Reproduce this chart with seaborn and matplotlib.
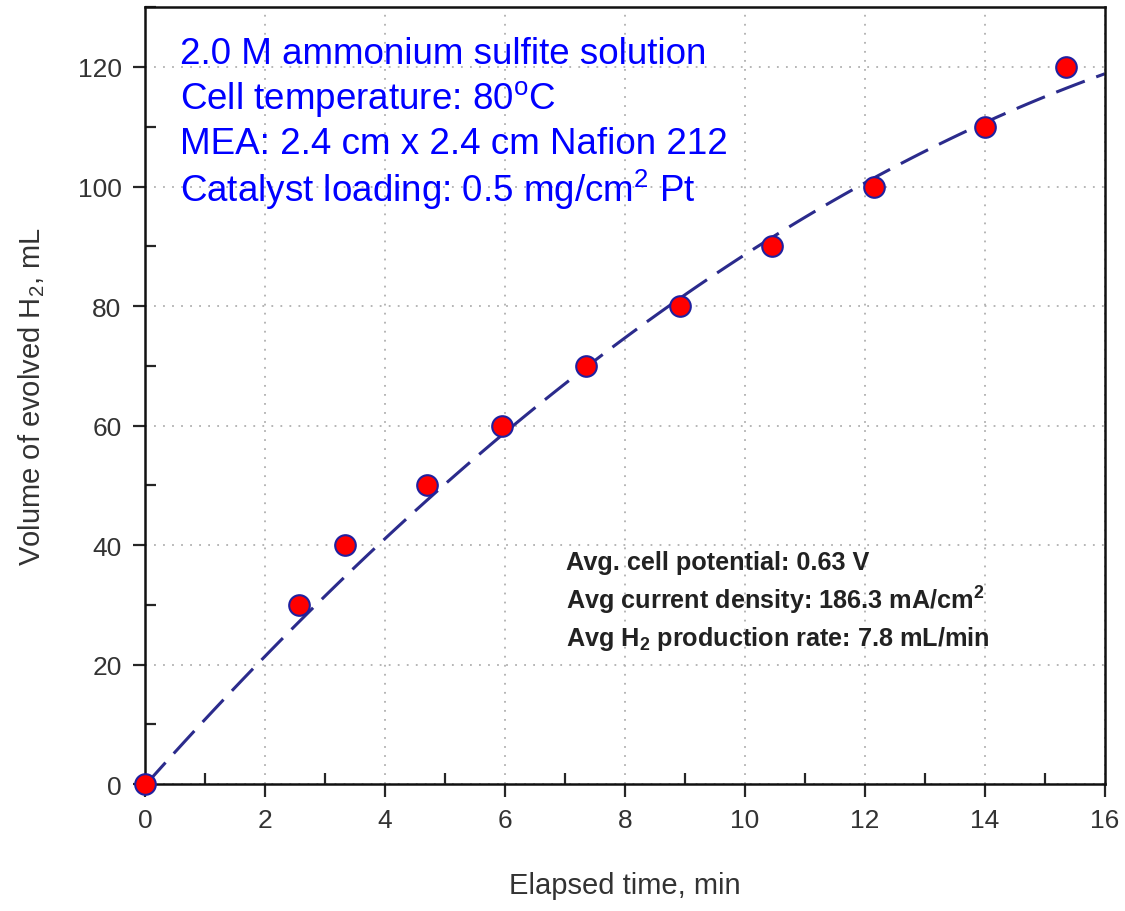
import numpy as np
import pandas as pd
import matplotlib
matplotlib.use("Agg")
import matplotlib.pyplot as plt
import seaborn as sns
from matplotlib.ticker import MultipleLocator

# === Data ===
elapsed_min = [0, 2.57, 3.33, 4.7, 5.95, 7.35, 8.92, 10.45, 12.15, 14.0, 15.35]
h2_volume_ml = [0, 30, 40, 50, 60, 70, 80, 90, 100, 110, 120]

# dashed trend curve at the grid lines
curve_min = [0, 2, 4, 6, 8, 10, 12, 14, 16]
curve_ml = [0, 21.3, 41.0, 58.5, 75.0, 88.5, 101.0, 110.5, 118.8]

info_lines = [
    "2.0 M ammonium sulfite solution",
    "Cell temperature: 80$^{\\mathregular{o}}$C",
    "MEA: 2.4 cm x 2.4 cm Nafion 212",
    "Catalyst loading: 0.5 mg/cm$^{\\mathregular{2}}$ Pt",
]
avg_lines = [
    "Avg. cell potential: 0.63 V",
    "Avg current density: 186.3 mA/cm$^{\\mathregular{2}}$",
    "Avg H$_{\\mathregular{2}}$ production rate: 7.8 mL/min",
]

df = pd.DataFrame({"time": elapsed_min, "volume": h2_volume_ml})
df_curve = pd.DataFrame({"time": curve_min, "volume": curve_ml})

sns.set_style("ticks")
plt.rcParams["font.family"] = ["Liberation Sans", "DejaVu Sans"]
plt.rcParams["mathtext.fontset"] = "custom"
plt.rcParams["mathtext.rm"] = "Liberation Sans"
plt.rcParams["mathtext.bf"] = "Liberation Sans:bold"

fig = plt.figure(figsize=(11.25, 9.12), dpi=100)
ax = fig.add_axes([0.129, 0.139, 0.853, 0.852])
ax.set_xlim(0, 16)
ax.set_ylim(0, 130)

# smooth 2nd order curve through the read points
sns.regplot(data=df_curve, x="time", y="volume", order=2, ci=None,
            scatter=False, ax=ax,
            line_kws=dict(color="#2b2b8c", lw=2.2, dashes=(10, 4), zorder=2))
sns.scatterplot(data=df, x="time", y="volume", ax=ax, s=220, color="#ff0000",
                edgecolor="#2020a0", linewidth=1.5, zorder=3, clip_on=False)

# === Axes styling ===
ax.xaxis.set_major_locator(MultipleLocator(2))
ax.xaxis.set_minor_locator(MultipleLocator(1))
ax.yaxis.set_major_locator(MultipleLocator(20))
ax.yaxis.set_minor_locator(MultipleLocator(10))
ax.tick_params(which="major", direction="out", length=9, width=1.6,
               labelsize=19, labelcolor="#333333", pad=8)
ax.tick_params(which="minor", direction="in", length=8, width=1.6)
ax.grid(True, which="major", linestyle=(0, (1, 4)), color="#b0b0b0", lw=1.3)
for s in ax.spines.values():
    s.set_linewidth(1.8)
    s.set_color("#111111")

ax.set_xlabel("Elapsed time, min", fontsize=21, color="#333333", labelpad=28)
ax.set_ylabel("Volume of evolved H$_{\\mathregular{2}}$, mL", fontsize=21,
              color="#333333", labelpad=22)

for i, line in enumerate(info_lines):
    ax.text(0.036, 0.94 - i * 0.058, line, transform=ax.transAxes,
            fontsize=26.5, color="#0000ff", va="center", ha="left")

for i, line in enumerate(avg_lines):
    ax.text(0.439, 0.286 - i * 0.049, line, transform=ax.transAxes,
            fontsize=18.2, color="#222222", fontweight="bold",
            va="center", ha="left")

fig.savefig("out.png", dpi=100)
